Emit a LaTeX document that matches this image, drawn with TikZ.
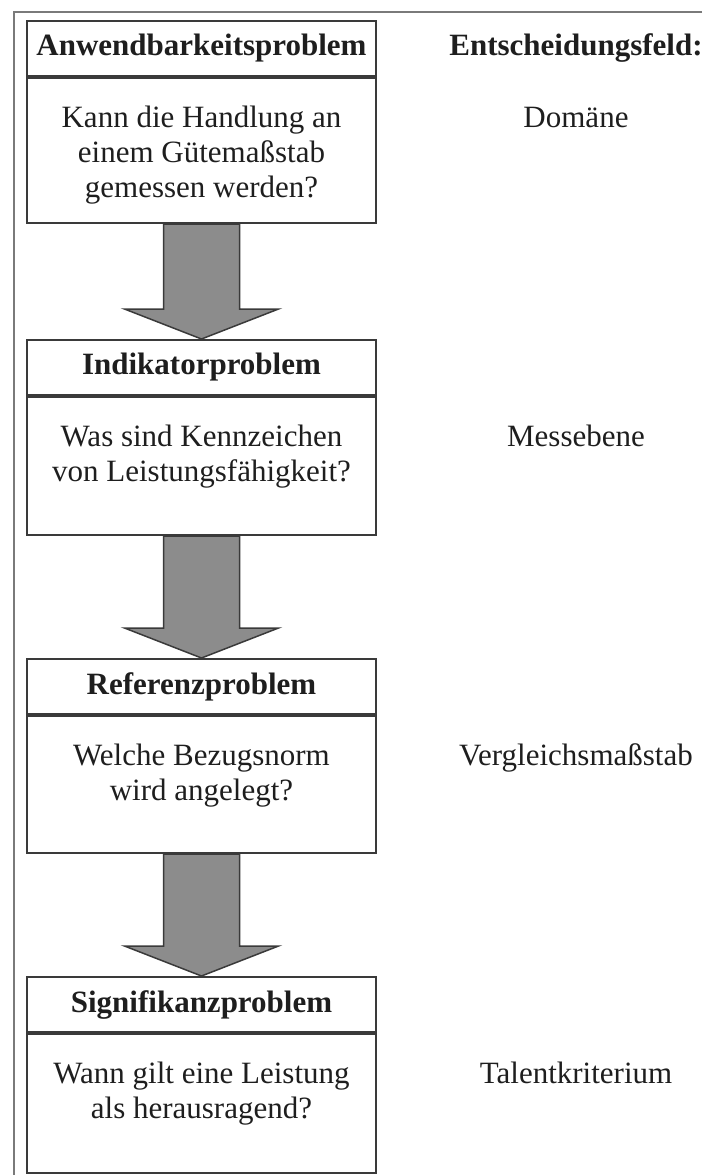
\documentclass[tikz,border=0pt]{standalone}
\usepackage{fontspec}
\setmainfont{Liberation Serif}
\usetikzlibrary{calc}
\definecolor{ink}{HTML}{1E1E1E}
\definecolor{boxgray}{HTML}{3A3A3A}
\definecolor{framegray}{HTML}{7A7A7A}
\definecolor{arrowgray}{HTML}{8C8C8C}
\begin{document}
\begin{tikzpicture}[x=1pt,y=-1pt,
  boxhead/.style={draw=boxgray, line width=2pt, minimum width=349pt,
    minimum height=55pt, inner sep=0pt,
    font=\fontsize{31}{35}\selectfont\bfseries, text=ink},
  boxbody/.style={draw=boxgray, line width=2pt, minimum width=349pt,
    inner sep=0pt, anchor=north},
  qtext/.style={align=center, inner sep=0pt, anchor=north,
    font=\fontsize{31}{35}\selectfont, text=ink},
  fieldlabel/.style={inner sep=0pt, anchor=base,
    font=\fontsize{31}{35}\selectfont, text=ink},
  bigarrow/.style={draw=boxgray, line width=1.5pt, fill=arrowgray,
    line join=miter},
  framestyle/.style={draw=framegray, line width=2.5pt}]

\useasboundingbox (0,0) rectangle (702,1175);

% outer frame (top and left edges)
\draw[framestyle] (702,12) -- (14,12) -- (14,1175);

% the four problem boxes: header + body
\node[boxhead] (h1) at (201.5,48.5) {Anwendbarkeitsproblem};
\node[boxbody, minimum height=145pt] (b1) at (h1.south) {};
\node[qtext] (q1) at ($(b1.north)+(0,29)$)
  {Kann die Handlung an\\einem Gütemaßstab\\gemessen werden?};

\node[boxhead] (h2) at (201.5,367.5) {Indikatorproblem};
\node[boxbody, minimum height=138pt] (b2) at (h2.south) {};
\node[qtext] (q2) at ($(b2.north)+(0,29)$)
  {Was sind Kennzeichen\\von Leistungsfähigkeit?};

\node[boxhead] (h3) at (201.5,686.5) {Referenzproblem};
\node[boxbody, minimum height=137pt] (b3) at (h3.south) {};
\node[qtext] (q3) at ($(b3.north)+(0,29)$)
  {Welche Bezugsnorm\\wird angelegt?};

\node[boxhead] (h4) at (201.5,1004.5) {Signifikanzproblem};
\node[boxbody, minimum height=139pt] (b4) at (h4.south) {};
\node[qtext] (q4) at ($(b4.north)+(0,29)$)
  {Wann gilt eine Leistung\\als herausragend?};

% decision fields on the right
\node[fieldlabel, font=\fontsize{31}{35}\selectfont\bfseries] (f0) at (576,55) {Entscheidungsfeld:};
\node[fieldlabel] (f1) at (576,127) {Domäne};
\node[fieldlabel] (f2) at (576,446) {Messebene};
\node[fieldlabel] (f3) at (576,765) {Vergleichsmaßstab};
\node[fieldlabel] (f4) at (576,1083) {Talentkriterium};

% block arrows between the boxes
\foreach \a/\b in {b1/h2, b2/h3, b3/h4}{
  \draw[bigarrow]
    ($(\a.south)+(-38,0)$) -- ($(\b.north)+(-38,-30)$) --
    ($(\b.north)+(-77,-30)$) -- (\b.north) --
    ($(\b.north)+(77,-30)$) -- ($(\b.north)+(38,-30)$) --
    ($(\a.south)+(38,0)$) -- cycle;
}
\end{tikzpicture}
\end{document}
